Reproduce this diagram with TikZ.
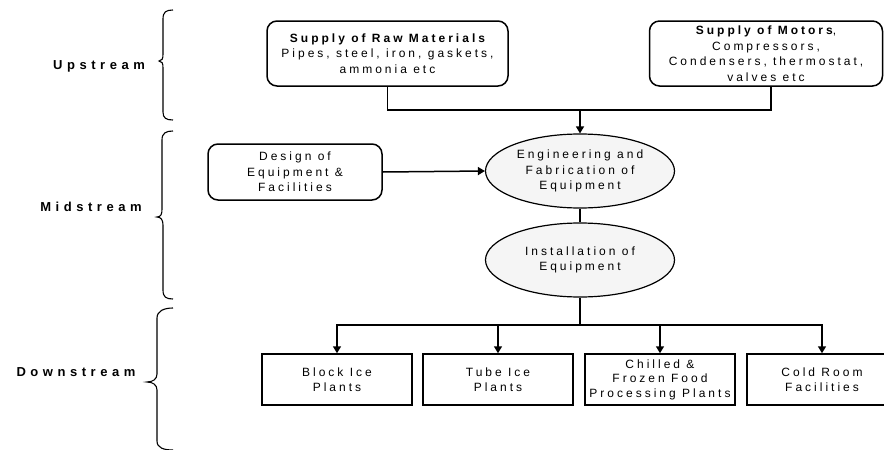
\documentclass[tikz,border=0pt]{standalone}
\usepackage{fontspec}
\usetikzlibrary{arrows.meta,shapes.geometric}
\newfontfamily\spacedfont[LetterSpace=25]{Liberation Sans}
\newfontfamily\labelfont[LetterSpace=35]{Liberation Sans}
\begin{document}
\begin{tikzpicture}[x=1pt,y=-1pt,
  line/.style={line width=1.5pt},
  arrow/.style={line width=1.5pt,-{Triangle[length=7pt,width=8pt]}},
  bracepath/.style={line width=1.1pt},
  boxtext/.style={font=\spacedfont\fontsize{12}{15.5}\selectfont,align=center,inner sep=0pt},
  roundbox/.style={boxtext,draw,line width=1.5pt,rounded corners=10pt},
  plainbox/.style={boxtext,draw,line width=1.5pt,minimum width=150pt,minimum height=51pt},
  stage/.style={draw,ellipse,line width=1.2pt,fill=gray!8,boxtext,minimum width=189pt,minimum height=74pt},
  stagelabel/.style={font=\labelfont\bfseries\fontsize{13}{15}\selectfont,inner sep=0pt}
]
\useasboundingbox (0,0) rectangle (884,450);

% stage labels and braces
\node[stagelabel] (up) at (99,66) {Upstream};
\node[stagelabel] (mid) at (91,207) {Midstream};
\node[stagelabel] (down) at (76,372) {Downstream};

\draw[bracepath] (173,10) .. controls (166,10) and (163,12) .. (163,19) -- (163,54)
  .. controls (163,59) and (162,61) .. (159,61) .. controls (162,61) and (163,63) .. (163,68)
  -- (163,112) .. controls (163,118) and (166,120) .. (173,120);
\draw[bracepath] (173,131) .. controls (166,131) and (162,133) .. (162,140) -- (162,209)
  .. controls (162,214) and (161,217) .. (157,217) .. controls (161,217) and (163,220) .. (163,225)
  -- (163,290) .. controls (163,297) and (166,299) .. (173,299);
\draw[bracepath] (173,308) .. controls (164,308) and (157,311) .. (157,318) -- (157,374)
  .. controls (157,379) and (153,382) .. (147,382) .. controls (153,382) and (157,385) .. (157,390)
  -- (157,441) .. controls (157,448) and (164,450) .. (173,450);

% upstream suppliers
\node[roundbox,minimum width=241pt,minimum height=65pt] (raw) at (387.5,53.5)
  {\bfseries Supply of Raw Materials\\Pipes, steel, iron, gaskets,\\ammonia etc};
\node[roundbox,minimum width=233pt,minimum height=65pt] (motors) at (766,53.5)
  {{\bfseries Supply of Motors}, \\Compressors,\\Condensers, thermostat,\\valves etc};

% midstream
\node[roundbox,minimum width=174pt,minimum height=56pt] (design) at (295,172)
  {Design of\\Equipment \&\\Facilities};
\node[stage] (eng) at (580,171) {Engineering and\\Fabrication of\\Equipment};
\node[stage] (inst) at (580,260) {Installation of\\Equipment};

% downstream
\node[plainbox] (block) at (337,379.5) {Block Ice\\Plants};
\node[plainbox] (tube) at (498,379.5) {Tube Ice\\Plants};
\node[plainbox,font=\spacedfont\fontsize{12}{14.5}\selectfont] (chilled) at (660,379.5) {Chilled \&\\Frozen Food\\Processing Plants};
\node[plainbox] (cold) at (822,379.5) {Cold Room\\Facilities};

% connectors
\coordinate (join) at (580,110);
\coordinate (split) at (580,325);
\draw[line] (raw.south) |- (join);
\draw[line] ([xshift=5pt]motors.south) |- (join);
\draw[arrow] (join) -- (eng.north);
\draw[arrow] (design.east) -- (eng.west);
\draw[line] (eng.south) -- (inst.north);
\draw[line] (inst.south) -- (split);
\draw[arrow] (split) -| (block.north);
\draw[arrow] (split) -| (tube.north);
\draw[arrow] (split) -| (chilled.north);
\draw[arrow] (split) -| (cold.north);
\end{tikzpicture}
\end{document}
